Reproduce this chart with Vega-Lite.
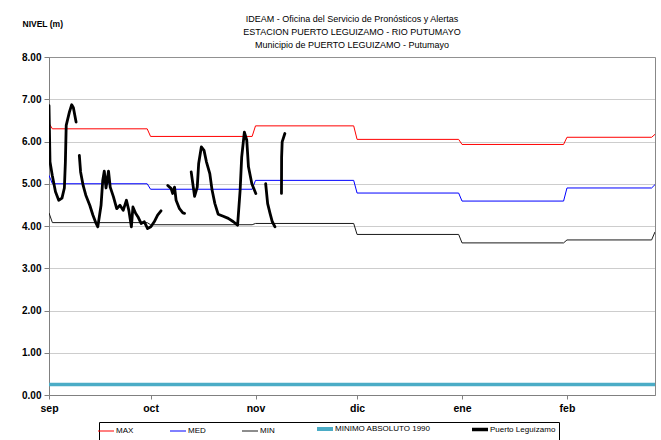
{
  "$schema": "https://vega.github.io/schema/vega-lite/v6.json",
  "autosize": {"type": "none"},
  "padding": {"left": 49, "top": 57, "right": 6, "bottom": 45},
  "width": 606,
  "height": 338,
  "background": "#ffffff",
  "title": {
    "text": ["IDEAM - Oficina del Servicio de Pronósticos y Alertas", "ESTACION PUERTO LEGUIZAMO -  RIO PUTUMAYO", "Municipio de PUERTO LEGUIZAMO - Putumayo"],
    "anchor": "middle",
    "font": "Liberation Sans, Arial",
    "fontSize": 9,
    "fontWeight": "normal",
    "color": "#000000",
    "lineHeight": 13,
    "offset": -31
  },
  "config": {
    "view": {"stroke": "#888888", "strokeWidth": 1},
    "axis": {
      "labelFont": "Liberation Sans, Arial",
      "labelFontWeight": "bold",
      "labelFontSize": 10,
      "labelColor": "#000000",
      "domainColor": "#808080",
      "tickColor": "#808080",
      "gridColor": "#9a9a9a",
      "gridDash": [1, 1]
    },
    "legend": {
      "labelFont": "Liberation Sans, Arial",
      "labelFontSize": 8,
      "labelColor": "#000000"
    }
  },
  "datasets": {
    "niveles": [
      {"fecha": "2023-09-01T00:00:00Z", "serie": "MAX", "nivel": 6.43},
      {"fecha": "2023-09-02T00:00:00Z", "serie": "MAX", "nivel": 6.30},
      {"fecha": "2023-09-30T00:00:00Z", "serie": "MAX", "nivel": 6.30},
      {"fecha": "2023-10-01T00:00:00Z", "serie": "MAX", "nivel": 6.12},
      {"fecha": "2023-10-31T00:00:00Z", "serie": "MAX", "nivel": 6.12},
      {"fecha": "2023-11-01T00:00:00Z", "serie": "MAX", "nivel": 6.37},
      {"fecha": "2023-11-30T00:00:00Z", "serie": "MAX", "nivel": 6.37},
      {"fecha": "2023-12-01T00:00:00Z", "serie": "MAX", "nivel": 6.05},
      {"fecha": "2023-12-31T00:00:00Z", "serie": "MAX", "nivel": 6.05},
      {"fecha": "2024-01-01T00:00:00Z", "serie": "MAX", "nivel": 5.93},
      {"fecha": "2024-01-31T00:00:00Z", "serie": "MAX", "nivel": 5.93},
      {"fecha": "2024-02-01T00:00:00Z", "serie": "MAX", "nivel": 6.10},
      {"fecha": "2024-02-26T00:00:00Z", "serie": "MAX", "nivel": 6.10},
      {"fecha": "2024-02-27T00:00:00Z", "serie": "MAX", "nivel": 6.17},
      {"fecha": "2023-09-01T00:00:00Z", "serie": "MED", "nivel": 5.20},
      {"fecha": "2023-09-02T00:00:00Z", "serie": "MED", "nivel": 5.00},
      {"fecha": "2023-09-30T00:00:00Z", "serie": "MED", "nivel": 5.00},
      {"fecha": "2023-10-01T00:00:00Z", "serie": "MED", "nivel": 4.87},
      {"fecha": "2023-10-31T00:00:00Z", "serie": "MED", "nivel": 4.87},
      {"fecha": "2023-11-01T00:00:00Z", "serie": "MED", "nivel": 5.08},
      {"fecha": "2023-11-30T00:00:00Z", "serie": "MED", "nivel": 5.08},
      {"fecha": "2023-12-01T00:00:00Z", "serie": "MED", "nivel": 4.78},
      {"fecha": "2023-12-31T00:00:00Z", "serie": "MED", "nivel": 4.78},
      {"fecha": "2024-01-01T00:00:00Z", "serie": "MED", "nivel": 4.59},
      {"fecha": "2024-01-31T00:00:00Z", "serie": "MED", "nivel": 4.59},
      {"fecha": "2024-02-01T00:00:00Z", "serie": "MED", "nivel": 4.90},
      {"fecha": "2024-02-26T00:00:00Z", "serie": "MED", "nivel": 4.90},
      {"fecha": "2024-02-27T00:00:00Z", "serie": "MED", "nivel": 4.98},
      {"fecha": "2023-09-01T00:00:00Z", "serie": "MIN", "nivel": 4.31},
      {"fecha": "2023-09-02T00:00:00Z", "serie": "MIN", "nivel": 4.08},
      {"fecha": "2023-09-30T00:00:00Z", "serie": "MIN", "nivel": 4.08},
      {"fecha": "2023-10-01T00:00:00Z", "serie": "MIN", "nivel": 4.03},
      {"fecha": "2023-10-31T00:00:00Z", "serie": "MIN", "nivel": 4.03},
      {"fecha": "2023-11-01T00:00:00Z", "serie": "MIN", "nivel": 4.06},
      {"fecha": "2023-11-30T00:00:00Z", "serie": "MIN", "nivel": 4.06},
      {"fecha": "2023-12-01T00:00:00Z", "serie": "MIN", "nivel": 3.80},
      {"fecha": "2023-12-31T00:00:00Z", "serie": "MIN", "nivel": 3.80},
      {"fecha": "2024-01-01T00:00:00Z", "serie": "MIN", "nivel": 3.60},
      {"fecha": "2024-01-31T00:00:00Z", "serie": "MIN", "nivel": 3.60},
      {"fecha": "2024-02-01T00:00:00Z", "serie": "MIN", "nivel": 3.67},
      {"fecha": "2024-02-26T00:00:00Z", "serie": "MIN", "nivel": 3.67},
      {"fecha": "2024-02-27T00:00:00Z", "serie": "MIN", "nivel": 3.86},
      {"fecha": "2023-09-01T00:00:00Z", "serie": "MINIMO ABSOLUTO 1990", "nivel": 0.25},
      {"fecha": "2024-02-27T00:00:00Z", "serie": "MINIMO ABSOLUTO 1990", "nivel": 0.25},
      {"fecha": "2023-09-01T00:00:00Z", "serie": "Puerto Leguízamo", "nivel": 6.85},
      {"fecha": "2023-09-01T07:00:00Z", "serie": "Puerto Leguízamo", "nivel": 5.52},
      {"fecha": "2023-09-01T23:00:00Z", "serie": "Puerto Leguízamo", "nivel": 5.20},
      {"fecha": "2023-09-02T22:00:00Z", "serie": "Puerto Leguízamo", "nivel": 4.81},
      {"fecha": "2023-09-03T21:00:00Z", "serie": "Puerto Leguízamo", "nivel": 4.61},
      {"fecha": "2023-09-04T20:00:00Z", "serie": "Puerto Leguízamo", "nivel": 4.66},
      {"fecha": "2023-09-05T13:00:00Z", "serie": "Puerto Leguízamo", "nivel": 4.90},
      {"fecha": "2023-09-05T20:00:00Z", "serie": "Puerto Leguízamo", "nivel": 5.50},
      {"fecha": "2023-09-06T02:00:00Z", "serie": "Puerto Leguízamo", "nivel": 6.38},
      {"fecha": "2023-09-07T01:00:00Z", "serie": "Puerto Leguízamo", "nivel": 6.70},
      {"fecha": "2023-09-07T17:00:00Z", "serie": "Puerto Leguízamo", "nivel": 6.87},
      {"fecha": "2023-09-08T05:00:00Z", "serie": "Puerto Leguízamo", "nivel": 6.80},
      {"fecha": "2023-09-09T00:00:00Z", "serie": "Puerto Leguízamo", "nivel": 6.46},
      {"fecha": "2023-09-09T12:00:00Z", "serie": "Puerto Leguízamo", "nivel": null},
      {"fecha": "2023-09-09T23:00:00Z", "serie": "Puerto Leguízamo", "nivel": 5.67},
      {"fecha": "2023-09-10T08:00:00Z", "serie": "Puerto Leguízamo", "nivel": 5.28},
      {"fecha": "2023-09-11T02:00:00Z", "serie": "Puerto Leguízamo", "nivel": 4.96},
      {"fecha": "2023-09-11T21:00:00Z", "serie": "Puerto Leguízamo", "nivel": 4.73},
      {"fecha": "2023-09-13T01:00:00Z", "serie": "Puerto Leguízamo", "nivel": 4.49},
      {"fecha": "2023-09-13T23:00:00Z", "serie": "Puerto Leguízamo", "nivel": 4.26},
      {"fecha": "2023-09-14T22:00:00Z", "serie": "Puerto Leguízamo", "nivel": 4.06},
      {"fecha": "2023-09-15T10:00:00Z", "serie": "Puerto Leguízamo", "nivel": 3.98},
      {"fecha": "2023-09-16T09:00:00Z", "serie": "Puerto Leguízamo", "nivel": 4.49},
      {"fecha": "2023-09-16T21:00:00Z", "serie": "Puerto Leguízamo", "nivel": 5.08},
      {"fecha": "2023-09-17T08:00:00Z", "serie": "Puerto Leguízamo", "nivel": 5.30},
      {"fecha": "2023-09-17T20:00:00Z", "serie": "Puerto Leguízamo", "nivel": 4.90},
      {"fecha": "2023-09-18T14:00:00Z", "serie": "Puerto Leguízamo", "nivel": 5.30},
      {"fecha": "2023-09-19T02:00:00Z", "serie": "Puerto Leguízamo", "nivel": 4.92},
      {"fecha": "2023-09-20T01:00:00Z", "serie": "Puerto Leguízamo", "nivel": 4.69},
      {"fecha": "2023-09-21T00:00:00Z", "serie": "Puerto Leguízamo", "nivel": 4.41},
      {"fecha": "2023-09-21T23:00:00Z", "serie": "Puerto Leguízamo", "nivel": 4.49},
      {"fecha": "2023-09-22T22:00:00Z", "serie": "Puerto Leguízamo", "nivel": 4.37},
      {"fecha": "2023-09-23T21:00:00Z", "serie": "Puerto Leguízamo", "nivel": 4.61},
      {"fecha": "2023-09-24T14:00:00Z", "serie": "Puerto Leguízamo", "nivel": 4.37},
      {"fecha": "2023-09-25T08:00:00Z", "serie": "Puerto Leguízamo", "nivel": 3.98},
      {"fecha": "2023-09-25T19:00:00Z", "serie": "Puerto Leguízamo", "nivel": 4.45},
      {"fecha": "2023-09-26T14:00:00Z", "serie": "Puerto Leguízamo", "nivel": 4.30},
      {"fecha": "2023-09-27T06:00:00Z", "serie": "Puerto Leguízamo", "nivel": 4.22},
      {"fecha": "2023-09-28T05:00:00Z", "serie": "Puerto Leguízamo", "nivel": 4.06},
      {"fecha": "2023-09-29T04:00:00Z", "serie": "Puerto Leguízamo", "nivel": 4.10},
      {"fecha": "2023-09-30T03:00:00Z", "serie": "Puerto Leguízamo", "nivel": 3.94},
      {"fecha": "2023-10-01T02:00:00Z", "serie": "Puerto Leguízamo", "nivel": 3.98},
      {"fecha": "2023-10-02T02:00:00Z", "serie": "Puerto Leguízamo", "nivel": 4.10},
      {"fecha": "2023-10-03T02:00:00Z", "serie": "Puerto Leguízamo", "nivel": 4.26},
      {"fecha": "2023-10-04T02:00:00Z", "serie": "Puerto Leguízamo", "nivel": 4.36},
      {"fecha": "2023-10-05T00:00:00Z", "serie": "Puerto Leguízamo", "nivel": null},
      {"fecha": "2023-10-06T02:00:00Z", "serie": "Puerto Leguízamo", "nivel": 4.96},
      {"fecha": "2023-10-07T01:00:00Z", "serie": "Puerto Leguízamo", "nivel": 4.89},
      {"fecha": "2023-10-07T13:00:00Z", "serie": "Puerto Leguízamo", "nivel": 4.77},
      {"fecha": "2023-10-08T02:00:00Z", "serie": "Puerto Leguízamo", "nivel": 4.92},
      {"fecha": "2023-10-08T13:00:00Z", "serie": "Puerto Leguízamo", "nivel": 4.61},
      {"fecha": "2023-10-09T13:00:00Z", "serie": "Puerto Leguízamo", "nivel": 4.41},
      {"fecha": "2023-10-10T13:00:00Z", "serie": "Puerto Leguízamo", "nivel": 4.31},
      {"fecha": "2023-10-11T01:00:00Z", "serie": "Puerto Leguízamo", "nivel": 4.30},
      {"fecha": "2023-10-12T00:00:00Z", "serie": "Puerto Leguízamo", "nivel": null},
      {"fecha": "2023-10-13T00:00:00Z", "serie": "Puerto Leguízamo", "nivel": 5.28},
      {"fecha": "2023-10-14T00:00:00Z", "serie": "Puerto Leguízamo", "nivel": 4.70},
      {"fecha": "2023-10-14T19:00:00Z", "serie": "Puerto Leguízamo", "nivel": 4.92},
      {"fecha": "2023-10-15T05:00:00Z", "serie": "Puerto Leguízamo", "nivel": 5.48},
      {"fecha": "2023-10-16T00:00:00Z", "serie": "Puerto Leguízamo", "nivel": 5.87},
      {"fecha": "2023-10-16T19:00:00Z", "serie": "Puerto Leguízamo", "nivel": 5.79},
      {"fecha": "2023-10-17T12:00:00Z", "serie": "Puerto Leguízamo", "nivel": 5.52},
      {"fecha": "2023-10-18T12:00:00Z", "serie": "Puerto Leguízamo", "nivel": 5.24},
      {"fecha": "2023-10-19T04:00:00Z", "serie": "Puerto Leguízamo", "nivel": 4.85},
      {"fecha": "2023-10-20T00:00:00Z", "serie": "Puerto Leguízamo", "nivel": 4.53},
      {"fecha": "2023-10-20T23:00:00Z", "serie": "Puerto Leguízamo", "nivel": 4.28},
      {"fecha": "2023-10-22T11:00:00Z", "serie": "Puerto Leguízamo", "nivel": 4.23},
      {"fecha": "2023-10-23T23:00:00Z", "serie": "Puerto Leguízamo", "nivel": 4.18},
      {"fecha": "2023-10-25T11:00:00Z", "serie": "Puerto Leguízamo", "nivel": 4.10},
      {"fecha": "2023-10-26T17:00:00Z", "serie": "Puerto Leguízamo", "nivel": 4.02},
      {"fecha": "2023-10-27T11:00:00Z", "serie": "Puerto Leguízamo", "nivel": 4.85},
      {"fecha": "2023-10-27T22:00:00Z", "serie": "Puerto Leguízamo", "nivel": 5.63},
      {"fecha": "2023-10-28T17:00:00Z", "serie": "Puerto Leguízamo", "nivel": 6.22},
      {"fecha": "2023-10-29T10:00:00Z", "serie": "Puerto Leguízamo", "nivel": 6.03},
      {"fecha": "2023-10-29T22:00:00Z", "serie": "Puerto Leguízamo", "nivel": 5.40},
      {"fecha": "2023-10-30T22:00:00Z", "serie": "Puerto Leguízamo", "nivel": 5.00},
      {"fecha": "2023-11-01T02:00:00Z", "serie": "Puerto Leguízamo", "nivel": 4.77},
      {"fecha": "2023-11-02T12:00:00Z", "serie": "Puerto Leguízamo", "nivel": null},
      {"fecha": "2023-11-04T00:00:00Z", "serie": "Puerto Leguízamo", "nivel": 5.00},
      {"fecha": "2023-11-04T14:00:00Z", "serie": "Puerto Leguízamo", "nivel": 4.53},
      {"fecha": "2023-11-05T07:00:00Z", "serie": "Puerto Leguízamo", "nivel": 4.30},
      {"fecha": "2023-11-05T23:00:00Z", "serie": "Puerto Leguízamo", "nivel": 4.10},
      {"fecha": "2023-11-06T18:00:00Z", "serie": "Puerto Leguízamo", "nivel": 3.98},
      {"fecha": "2023-11-07T12:00:00Z", "serie": "Puerto Leguízamo", "nivel": null},
      {"fecha": "2023-11-08T16:00:00Z", "serie": "Puerto Leguízamo", "nivel": 4.77},
      {"fecha": "2023-11-08T17:00:00Z", "serie": "Puerto Leguízamo", "nivel": 5.63},
      {"fecha": "2023-11-08T21:00:00Z", "serie": "Puerto Leguízamo", "nivel": 5.99},
      {"fecha": "2023-11-09T16:00:00Z", "serie": "Puerto Leguízamo", "nivel": 6.19}
    ]
  },
  "data": {"name": "niveles"},
  "encoding": {
    "x": {
      "field": "fecha",
      "type": "temporal",
      "title": null,
      "scale": {
        "type": "utc",
        "domain": [
          {"year": 2023, "month": 9, "date": 1, "utc": true},
          {"year": 2024, "month": 2, "date": 27, "utc": true}
        ]
      },
      "axis": {
        "grid": false,
        "values": [
          {"year": 2023, "month": 9, "date": 1, "utc": true},
          {"year": 2023, "month": 10, "date": 1, "utc": true},
          {"year": 2023, "month": 11, "date": 1, "utc": true},
          {"year": 2023, "month": 12, "date": 1, "utc": true},
          {"year": 2024, "month": 1, "date": 1, "utc": true},
          {"year": 2024, "month": 2, "date": 1, "utc": true}
        ],
        "labelExpr": "['ene','feb','mar','abr','may','jun','jul','ago','sep','oct','nov','dic'][utcmonth(datum.value)]",
        "tickSize": 4,
        "labelPadding": 4,
        "labelFontSize": 10.5,
        "labelFlush": false,
        "labelOverlap": false
      }
    },
    "y": {
      "field": "nivel",
      "type": "quantitative",
      "scale": {"domain": [0, 8], "nice": false},
      "axis": {
        "values": [0, 1, 2, 3, 4, 5, 6, 7, 8],
        "format": ".2f",
        "title": "NIVEL (m)",
        "titleAngle": 0,
        "titleX": -27,
        "titleY": -34,
        "titleAlign": "left",
        "titleBaseline": "middle",
        "titleFont": "Liberation Sans, Arial",
        "titleFontSize": 8.5,
        "titleFontWeight": "bold",
        "titleColor": "#000000",
        "tickSize": 5,
        "labelPadding": 3,
        "grid": true
      }
    },
    "color": {
      "field": "serie",
      "type": "nominal",
      "scale": {
        "domain": ["MAX", "MED", "MIN", "MINIMO ABSOLUTO 1990", "Puerto Leguízamo"],
        "range": ["#ff0000", "#0000ff", "#1a1a1a", "#4bacc6", "#000000"]
      },
      "legend": {
        "title": null,
        "orient": "none",
        "legendX": 50,
        "legendY": 365,
        "direction": "horizontal",
        "strokeColor": "#000000",
        "padding": 3,
        "symbolType": "stroke",
        "symbolSize": 256,
        "columnPadding": 34,
        "labelOffset": 6,
        "encode": {
          "symbols": {
            "update": {
              "strokeWidth": {"signal": "datum.value === 'Puerto Leguízamo' ? 3.5 : (datum.value === 'MINIMO ABSOLUTO 1990' ? 4 : 1)"}
            }
          }
        }
      }
    }
  },
  "layer": [
    {
      "transform": [{"filter": "datum.serie === 'MAX' || datum.serie === 'MED' || datum.serie === 'MIN'"}],
      "mark": {"type": "line", "strokeWidth": 1, "clip": true}
    },
    {
      "transform": [{"filter": "datum.serie === 'MINIMO ABSOLUTO 1990'"}],
      "mark": {"type": "line", "strokeWidth": 3.5, "clip": true}
    },
    {
      "transform": [{"filter": "datum.serie === 'Puerto Leguízamo'"}],
      "mark": {"type": "line", "strokeWidth": 2.8, "strokeJoin": "round", "strokeCap": "round", "clip": true}
    }
  ]
}
